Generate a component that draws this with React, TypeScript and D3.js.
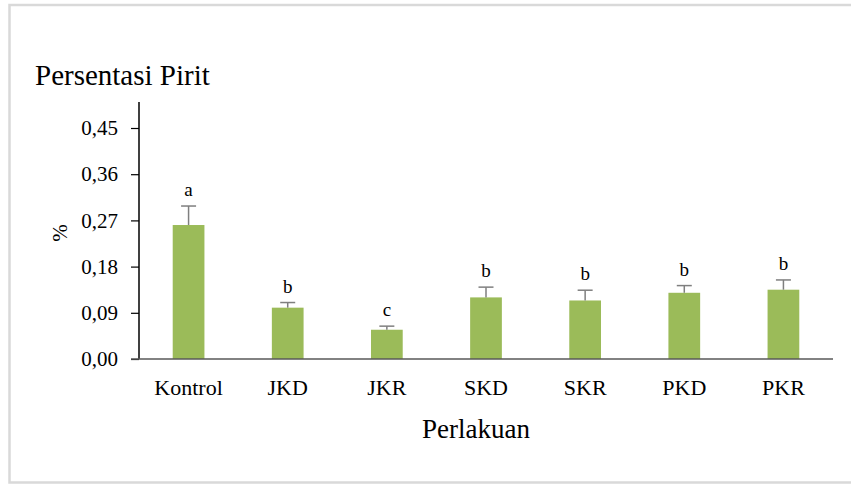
import React, { useEffect, useRef } from 'react';
import * as d3 from 'd3';

const categories = ['Kontrol', 'JKD', 'JKR', 'SKD', 'SKR', 'PKD', 'PKR'];
const values = [0.261, 0.100, 0.057, 0.120, 0.114, 0.129, 0.135];
const errors = [0.037, 0.010, 0.007, 0.020, 0.020, 0.014, 0.019];
const letters = ['a', 'b', 'c', 'b', 'b', 'b', 'b'];
const yTicks = [0, 0.09, 0.18, 0.27, 0.36, 0.45];

const W = 851;
const H = 484;

const App = () => {
  const svgRef = useRef<SVGSVGElement | null>(null);

  useEffect(() => {
    if (!svgRef.current) return;
    const svg = d3.select(svgRef.current);
    svg.selectAll('*').remove();

    const font = '"Liberation Serif", "Times New Roman", serif';
    const margin = { top: 128, right: 18, bottom: 125, left: 139 };
    const width = W - margin.left - margin.right;
    const height = H - margin.top - margin.bottom;

    svg.append('rect').attr('width', W).attr('height', H).attr('fill', '#fff');

    // outer frame
    svg.append('rect')
      .attr('x', 9.5)
      .attr('y', 5)
      .attr('width', W)
      .attr('height', 477.5)
      .attr('fill', 'none')
      .attr('stroke', '#d9d9d9')
      .attr('stroke-width', 2.5);

    const g = svg.append('g').attr('transform', `translate(${margin.left},${margin.top})`);

    const x = d3.scaleBand().domain(categories).range([0, width]).paddingInner(0.68).paddingOuter(0.34);
    const y = d3.scaleLinear().domain([0, 0.45]).range([height, 0]);

    // bars
    g.selectAll('.bar')
      .data(categories)
      .enter()
      .append('rect')
      .attr('x', d => x(d)!)
      .attr('y', (d, i) => y(values[i]))
      .attr('width', x.bandwidth())
      .attr('height', (d, i) => height - y(values[i]))
      .attr('fill', '#9bbb59');

    // error bars + letters
    categories.forEach((c, i) => {
      const cx = x(c)! + x.bandwidth() / 2;
      const top = y(values[i] + errors[i]);
      g.append('line')
        .attr('x1', cx).attr('x2', cx)
        .attr('y1', y(values[i])).attr('y2', top)
        .attr('stroke', '#7f7f7f').attr('stroke-width', 1.5);
      g.append('line')
        .attr('x1', cx - 7.5).attr('x2', cx + 7.5)
        .attr('y1', top).attr('y2', top)
        .attr('stroke', '#7f7f7f').attr('stroke-width', 1.5);
      g.append('text')
        .attr('x', cx)
        .attr('y', top - 10)
        .attr('text-anchor', 'middle')
        .attr('font-family', font)
        .attr('font-size', '19px')
        .attr('fill', '#000')
        .text(letters[i]);
    });

    // y axis
    const yAxis = g.append('g')
      .call(d3.axisLeft(y).tickValues(yTicks).tickSize(8).tickPadding(13)
        .tickFormat(d => d3.format('.2f')(d as number).replace('.', ',')));
    yAxis.attr('font-family', font).attr('font-size', 21);
    yAxis.select('.domain').attr('stroke', '#000').attr('stroke-width', 1.5).attr('d', `M0,${height}V${-26}`);
    yAxis.selectAll('.tick line').attr('stroke', '#000').attr('stroke-width', 1.2);
    yAxis.selectAll('text')
      .attr('font-family', font)
      .attr('font-size', '21px')
      .attr('fill', '#000');

    // x axis
    const xAxis = g.append('g')
      .attr('transform', `translate(0,${height})`)
      .call(d3.axisBottom(x).tickSize(0).tickPadding(20));
    xAxis.attr('font-family', font).attr('font-size', 22);
    xAxis.select('.domain').attr('stroke', '#595959').attr('stroke-width', 1.5).attr('d', `M-8,0H${width}`);
    xAxis.selectAll('text')
      .attr('font-family', font)
      .attr('font-size', '22px')
      .attr('fill', '#000');

    // title
    svg.append('text')
      .attr('x', 35)
      .attr('y', 85)
      .attr('font-family', font)
      .attr('font-size', '29px')
      .attr('fill', '#000')
      .text('Persentasi Pirit');

    // axis titles
    svg.append('text')
      .attr('transform', `translate(67,233) rotate(-90)`)
      .attr('text-anchor', 'middle')
      .attr('font-family', font)
      .attr('font-size', '21px')
      .attr('fill', '#000')
      .text('%');

    svg.append('text')
      .attr('x', 476)
      .attr('y', 438)
      .attr('text-anchor', 'middle')
      .attr('font-family', font)
      .attr('font-size', '27px')
      .attr('fill', '#000')
      .text('Perlakuan');
  }, []);

  return (
    <div style={{ position: 'fixed', left: 0, top: 0, width: W, height: H }}>
      <svg ref={svgRef} width={W} height={H} style={{ display: 'block' }} />
    </div>
  );
};

export default App;
